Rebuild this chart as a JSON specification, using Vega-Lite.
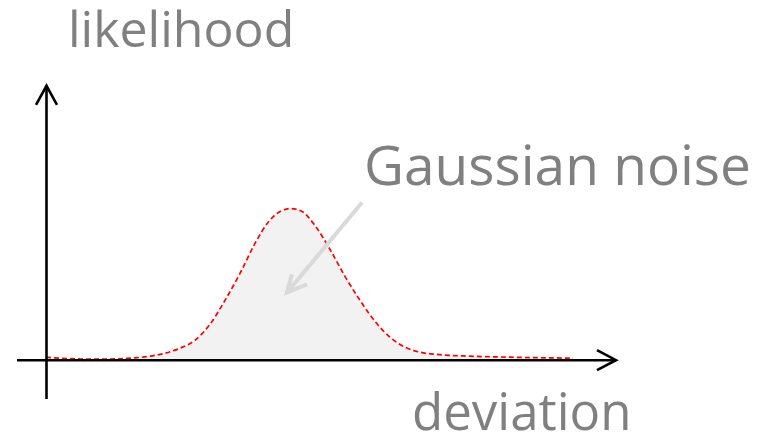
{
  "$schema": "https://vega.github.io/schema/vega-lite/v6.json",
  "width": 770,
  "height": 440,
  "autosize": {"type": "fit", "contains": "padding"},
  "padding": 0,
  "background": "white",
  "config": {"view": {"stroke": null}},
  "datasets": {
    "curve": [
      {"x": 46, "y": 82}, {"x": 70, "y": 80.5}, {"x": 100, "y": 80}, {"x": 130, "y": 81},
      {"x": 150, "y": 83}, {"x": 165, "y": 86}, {"x": 180, "y": 91}, {"x": 195, "y": 99},
      {"x": 210, "y": 115}, {"x": 225, "y": 139}, {"x": 240, "y": 166}, {"x": 255, "y": 196},
      {"x": 268, "y": 217}, {"x": 280, "y": 228}, {"x": 291, "y": 231}, {"x": 302, "y": 228},
      {"x": 315, "y": 214}, {"x": 330, "y": 190}, {"x": 345, "y": 163}, {"x": 360, "y": 139},
      {"x": 375, "y": 118}, {"x": 390, "y": 102}, {"x": 405, "y": 92}, {"x": 420, "y": 87},
      {"x": 440, "y": 84.5}, {"x": 470, "y": 83}, {"x": 510, "y": 82}, {"x": 573, "y": 81}
    ],
    "axes": [
      {"axis": "deviation", "x": 17, "y": 79, "x2": 615, "y2": 79},
      {"axis": "likelihood", "x": 46.5, "y": 40, "x2": 46.5, "y2": 353}
    ],
    "heads": [
      {"head": "deviation", "i": 1, "x": 597, "y": 89},
      {"head": "deviation", "i": 2, "x": 616, "y": 79},
      {"head": "deviation", "i": 3, "x": 597, "y": 69},
      {"head": "likelihood", "i": 1, "x": 36, "y": 335},
      {"head": "likelihood", "i": 2, "x": 46.5, "y": 354},
      {"head": "likelihood", "i": 3, "x": 57, "y": 335}
    ],
    "pointer": [
      {"part": "shaft", "i": 1, "x": 362, "y": 237},
      {"part": "shaft", "i": 2, "x": 288, "y": 148},
      {"part": "head", "i": 1, "x": 292, "y": 165},
      {"part": "head", "i": 2, "x": 287, "y": 147},
      {"part": "head", "i": 3, "x": 307, "y": 155}
    ],
    "labels": [
      {"label": "likelihood", "x": 68, "y": 393},
      {"label": "Gaussian noise", "x": 364, "y": 255},
      {"label": "deviation", "x": 412, "y": 9}
    ]
  },
  "encoding": {
    "x": {"field": "x", "type": "quantitative", "scale": {"domain": [0, 770], "nice": false, "zero": false}, "axis": null},
    "y": {"field": "y", "type": "quantitative", "scale": {"domain": [0, 440], "nice": false, "zero": false}, "axis": null}
  },
  "layer": [
    {
      "data": {"name": "curve"},
      "mark": {"type": "area", "color": "#f2f2f2", "interpolate": "monotone"},
      "encoding": {"y2": {"datum": 79}}
    },
    {
      "data": {"name": "curve"},
      "mark": {"type": "line", "color": "#ff0000", "strokeWidth": 1.7, "strokeDash": [5, 3], "interpolate": "monotone"},
      "encoding": {}
    },
    {
      "data": {"name": "axes"},
      "mark": {"type": "rule", "color": "#000000", "strokeWidth": 2.6},
      "encoding": {"x2": {"field": "x2"}, "y2": {"field": "y2"}}
    },
    {
      "data": {"name": "heads"},
      "mark": {"type": "line", "color": "#000000", "strokeWidth": 2.6},
      "encoding": {"detail": {"field": "head"}, "order": {"field": "i"}}
    },
    {
      "data": {"name": "pointer"},
      "mark": {"type": "line", "color": "#d9d9d9", "strokeWidth": 4},
      "encoding": {"detail": {"field": "part"}, "order": {"field": "i"}}
    },
    {
      "data": {"name": "labels"},
      "transform": [{"filter": "datum.label === 'likelihood'"}],
      "mark": {"type": "text", "align": "left", "baseline": "alphabetic", "font": "Open Sans", "fontSize": 50, "color": "#808080"},
      "encoding": {"text": {"field": "label"}}
    },
    {
      "data": {"name": "labels"},
      "transform": [{"filter": "datum.label === 'deviation'"}],
      "mark": {"type": "text", "align": "left", "baseline": "alphabetic", "font": "Open Sans", "fontSize": 51, "color": "#808080"},
      "encoding": {"text": {"field": "label"}}
    },
    {
      "data": {"name": "labels"},
      "transform": [{"filter": "datum.label === 'Gaussian noise'"}],
      "mark": {"type": "text", "align": "left", "baseline": "alphabetic", "font": "Open Sans", "fontSize": 55, "color": "#808080"},
      "encoding": {"text": {"field": "label"}}
    }
  ]
}
